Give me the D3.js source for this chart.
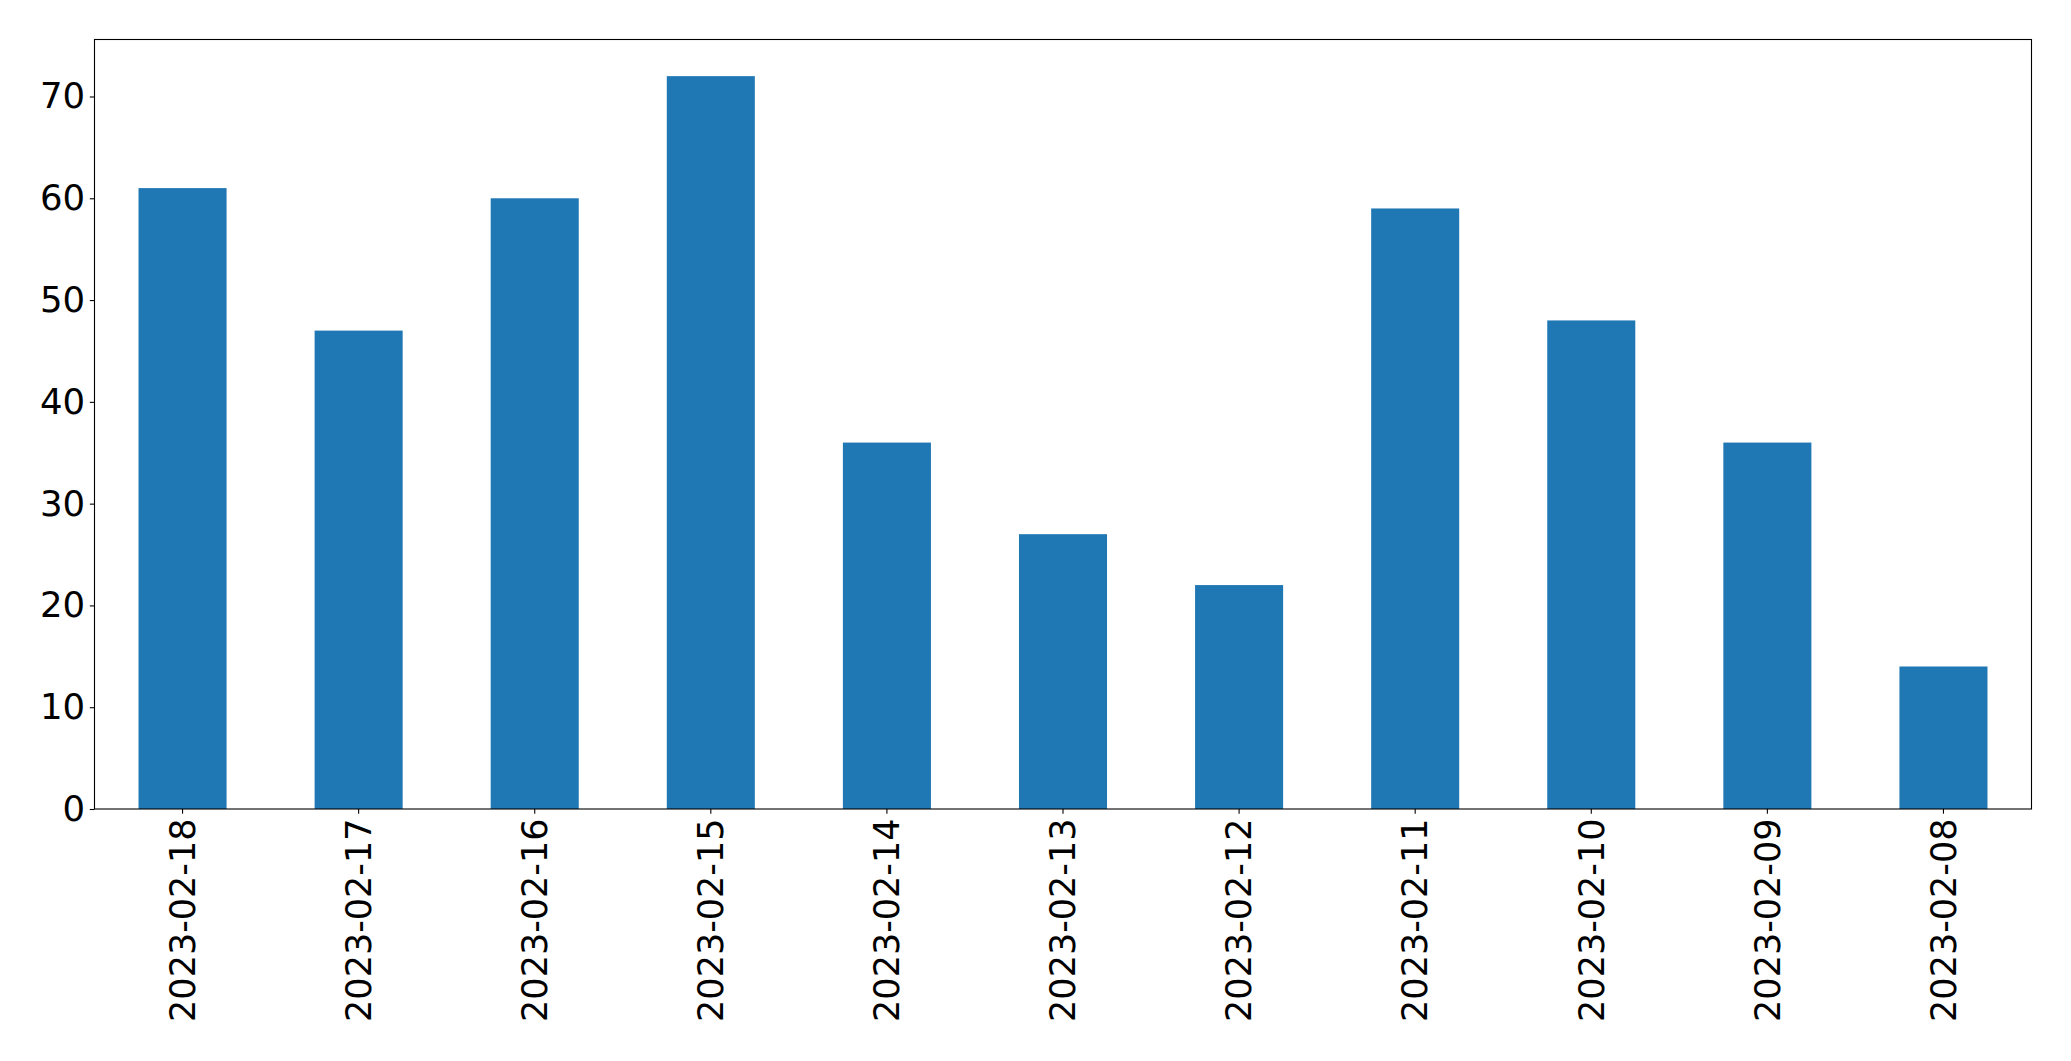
<!DOCTYPE html>
<html>
<head>
<meta charset="utf-8">
<script src="https://cdn.jsdelivr.net/npm/d3@7"></script>
<style>
  html, body { margin: 0; padding: 0; background: #fff; }
  svg { display: block; }
</style>
</head>
<body>
<svg id="chart" width="2071" height="1061"></svg>
<script>
const categories = ["2023-02-18","2023-02-17","2023-02-16","2023-02-15","2023-02-14","2023-02-13","2023-02-12","2023-02-11","2023-02-10","2023-02-09","2023-02-08"];
const values = [61, 47, 60, 72, 36, 27, 22, 59, 48, 36, 14];
const yTicks = [0, 10, 20, 30, 40, 50, 60, 70];

const W = 2071, H = 1061;
const margin = {left: 94.5, right: W - 2031.5, top: 39.5, bottom: H - 809};
const svg = d3.select("#chart");
const iw = W - margin.left - margin.right;
const ih = H - margin.top - margin.bottom;
const g = svg.append("g").attr("transform", `translate(${margin.left},${margin.top})`);

const x = d3.scaleBand().domain(categories).range([0, iw]).paddingInner(0.5).paddingOuter(0.25);
const y = d3.scaleLinear().domain([0, d3.max(values) * 1.05]).range([ih, 0]);

g.selectAll("rect.bar").data(values).join("rect")
  .attr("class", "bar")
  .attr("x", (d, i) => x(categories[i]))
  .attr("width", x.bandwidth())
  .attr("y", d => y(d))
  .attr("height", d => y(0) - y(d))
  .attr("fill", "#1f77b4");

const font = "DejaVu Sans, sans-serif";

const yAxis = g.append("g").call(d3.axisLeft(y).tickValues(yTicks).tickSize(4.7).tickPadding(4.7).tickFormat(d3.format("d")));
yAxis.select(".domain").remove();
yAxis.selectAll("text").attr("font-family", font).attr("font-size", 35.5).attr("fill", "#000");
yAxis.selectAll("line").attr("stroke", "#000").attr("stroke-width", 1.1);

const xAxis = g.append("g").attr("transform", `translate(0,${ih})`)
  .call(d3.axisBottom(x).tickSize(4.7).tickPadding(0));
xAxis.select(".domain").remove();
xAxis.selectAll("line").attr("stroke", "#000").attr("stroke-width", 1.1);
xAxis.selectAll("text")
  .attr("font-family", font).attr("font-size", 35).attr("fill", "#000")
  .attr("text-anchor", "end")
  .attr("transform", "translate(0,9.5) rotate(-90)")
  .attr("x", 0).attr("y", 0).attr("dy", "0.35em");

g.append("rect").attr("x", 0).attr("y", 0).attr("width", iw).attr("height", ih)
  .attr("fill", "none").attr("stroke", "#000").attr("stroke-width", 1.1);
</script>
</body>
</html>
